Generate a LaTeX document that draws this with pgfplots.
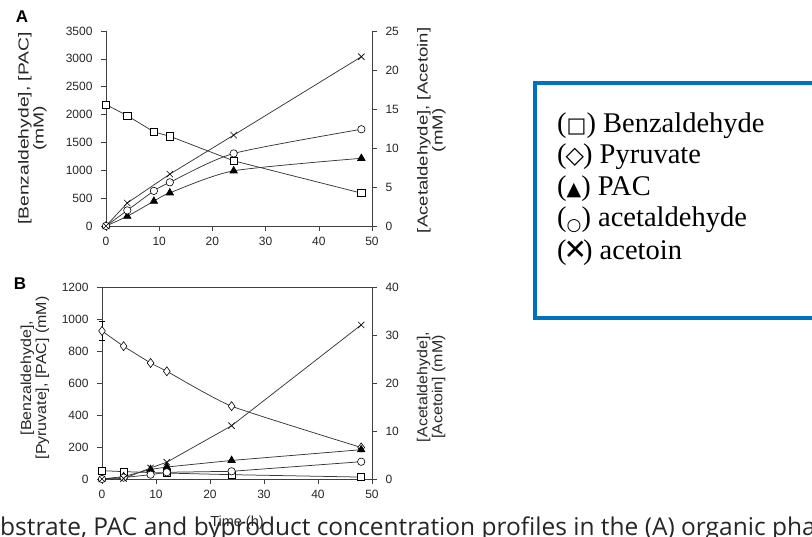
\documentclass[border=0pt]{standalone}
\usepackage{pgfplots}
\pgfplotsset{compat=1.18}
\usepackage{fontspec}
\setmainfont{Liberation Sans}
\newfontfamily\seriffont{Liberation Serif}
\newfontfamily\symfont{DejaVu Sans}
\newfontfamily\capfont{Open Sans}
\definecolor{legblue}{RGB}{0,112,192}
\definecolor{linegray}{RGB}{55,55,55}
\pgfplotsset{
  base/.style={scale only axis, xmin=0, xmax=50, clip=false,
    tick align=outside, major tick length=5pt,
    tick label style={font=\fontsize{12}{13}\selectfont, text=black!85},
    /pgf/number format/assume math mode=true, /pgf/number format/1000 sep={},
    axis line style={black!75, line width=0.6pt},
    tick style={black!75, line width=0.6pt},
    label style={font=\fontsize{14.5}{15}\selectfont, text=black!85},
  },
  ln/.style={line width=0.75pt, color=linegray},
  benz/.style={ln, mark=square*, mark size=3.6pt, mark options={fill=white, draw=black, line width=0.6pt}},
  pyr/.style={ln, mark=diamond*, mark size=4.5pt, mark options={fill=white, draw=black, line width=0.6pt}},
  pac/.style={ln, mark=triangle*, mark size=4.2pt, mark options={fill=black, draw=black}},
  ald/.style={ln, mark=*, mark size=3.7pt, mark options={fill=white, draw=black, line width=0.6pt}},
  acn/.style={ln, mark=x, mark size=4.5pt, mark options={draw=black, line width=0.6pt}},
  eb/.style={draw=none, mark=none, forget plot, error bars/.cd, y dir=both, y explicit,
    error bar style={black, line width=0.6pt}, error mark options={black, mark size=3pt, rotate=90}},
}
\begin{document}
\begin{tikzpicture}[x=1pt,y=1pt]
\useasboundingbox (0,0) rectangle (812,537);
% ---------------- Panel A ----------------
\begin{axis}[base, at={(106pt,311pt)}, anchor=south west, width=266pt, height=195pt,
  axis x line*=bottom, axis y line*=left,
  xtick={0,10,...,50}, ymin=0, ymax=3500, ytick={0,500,...,3500},
  xticklabel style={yshift=-3pt}, yticklabel style={xshift=-5pt},
  ylabel={\scalebox{1.33}[1]{\begin{tabular}{@{}c@{}}[Benzaldehyde], [PAC]\\(mM)\end{tabular}}},
  ylabel style={at={(axis description cs:-0.274,0.5)}, anchor=center}]
\addplot[eb] coordinates {(4,1980) +- (0,70) (9,1690) +- (0,45)};
\addplot[benz] coordinates {(0,2180) (4,1980) (9,1690) (12,1610) (24,1170) (48,590)};
\addplot[pac, smooth, tension=0.4] coordinates {(0,0) (4,175) (9,445) (12,595) (24,990) (48,1215)};
\end{axis}
\begin{axis}[base, at={(106pt,311pt)}, anchor=south west, width=266pt, height=195pt,
  axis x line=none, axis y line*=right,
  ymin=0, ymax=25, ytick={0,5,...,25}, yticklabel style={xshift=5pt},
  ylabel={\scalebox{1.28}[1]{\begin{tabular}{@{}c@{}}[Acetaldehyde], [Acetoin]\\(mM)\end{tabular}}},
  ylabel style={at={(axis description cs:1.226,0.49)}, anchor=center}]
\addplot[ald, smooth, tension=0.4] coordinates {(0,0) (4,2.0) (9,4.5) (12,5.6) (24,9.3) (48,12.4)};
\addplot[acn] coordinates {(0,0) (4,2.95) (12,6.65) (24,11.65) (48,21.7)};
\end{axis}
% ---------------- Panel B ----------------
\begin{axis}[base, at={(102pt,58pt)}, anchor=south west, width=270pt, height=192pt,
  xtick pos=bottom, ytick pos=left,
  xtick={0,10,...,50}, ymin=0, ymax=1200, ytick={0,200,...,1200},
  xticklabel style={yshift=-3pt}, yticklabel style={xshift=-5pt},
  xlabel={Time (h)},
  xlabel style={at={(axis description cs:0.5,-0.229)}, anchor=center},
  ylabel={\scalebox{1.1}[1]{\begin{tabular}{@{}c@{}}[Benzaldehyde],\\\relax[Pyruvate], [PAC] (mM)\end{tabular}}},
  ylabel style={at={(axis description cs:-0.246,0.526)}, anchor=center}]
\addplot[eb] coordinates {(0,925) +- (0,60)};
\addplot[benz] coordinates {(0,52) (4,46) (12,37) (24,27) (48,12)};
\addplot[pyr, smooth, tension=0.3] coordinates {(0,925) (4,830) (9,725) (12,673) (24,455) (48,197)};
\addplot[pac] coordinates {(0,0) (4,15) (9,60) (12,75) (24,116) (48,183)};
\end{axis}
\begin{axis}[base, at={(102pt,58pt)}, anchor=south west, width=270pt, height=192pt,
  axis x line=none, axis y line*=right,
  ymin=0, ymax=40, ytick={0,10,...,40}, yticklabel style={xshift=5pt},
  ylabel={\scalebox{1.1}[1]{\begin{tabular}{@{}c@{}}[Acetaldehyde],\\\relax[Acetoin] (mM)\end{tabular}}},
  ylabel style={at={(axis description cs:1.222,0.479)}, anchor=center}]
\addplot[ald] coordinates {(0,0) (4,0.3) (9,0.9) (12,1.4) (24,1.6) (48,3.6)};
\addplot[acn] coordinates {(0,0) (4,0.1) (9,2.3) (12,3.5) (24,11.1) (48,32.1)};
\end{axis}
% panel letters
\node[font=\bfseries\fontsize{17}{17}\selectfont] at (22,520) {A};
\node[font=\bfseries\fontsize{17}{17}\selectfont] at (20,253) {B};
% legend box
\draw[legblue, line width=4pt, fill=white] (535,454) rectangle (850,219);
\begin{scope}[every node/.style={anchor=base west, inner sep=0pt, font=\seriffont\fontsize{28.5}{30}\selectfont}]
\node at (557,404) {({\symfont\fontsize{21}{21}\selectfont □}) Benzaldehyde};
\node at (557,373) {(\kern-1pt{\symfont\fontsize{24}{24}\selectfont ◇}\kern-1pt) Pyruvate};
\node at (557,341) {({\symfont\fontsize{19}{19}\selectfont ▲}) PAC};
\node at (557,310) {({\symfont\fontsize{17}{17}\selectfont\raisebox{-4pt}{○}}) acetaldehyde};
\node at (557,277) {(\kern-3pt{\symfont\fontsize{28}{28}\selectfont ✕}\kern-4pt) acetoin};
\end{scope}
% caption fragment
\node[anchor=base west, inner sep=0pt, font=\capfont\fontsize{24.5}{26}\selectfont, text=black!85] at (0,1) {bstrate, PAC and byproduct concentration profiles in the (A) organic pha};
\end{tikzpicture}
\end{document}
